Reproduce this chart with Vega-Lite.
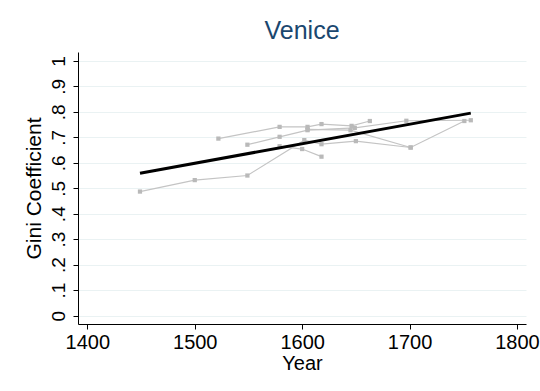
{
  "$schema": "https://vega.github.io/schema/vega-lite/v6.json",
  "width": 448,
  "height": 272,
  "autosize": {"type": "none"},
  "padding": {"left": 78, "top": 52, "right": 14, "bottom": 67},
  "background": "white",
  "title": {"text": "Venice", "fontSize": 25, "font": "Liberation Sans", "fontWeight": "normal", "color": "#1a476f", "anchor": "middle", "offset": 8},
  "config": {
    "view": {"stroke": null},
    "axis": {"labelFont": "Liberation Sans", "titleFont": "Liberation Sans", "labelColor": "#000", "titleColor": "#000", "titleFontWeight": "normal", "domainColor": "#000", "tickColor": "#000", "tickSize": 5, "domainWidth": 1, "tickWidth": 1}
  },
  "datasets": {
    "obs": [
      {"series": "S1", "year": 1449, "gini": 0.487},
      {"series": "S1", "year": 1500, "gini": 0.532},
      {"series": "S1", "year": 1549, "gini": 0.550},
      {"series": "S1", "year": 1602, "gini": 0.689},
      {"series": "S1", "year": 1618, "gini": 0.673},
      {"series": "S1", "year": 1650, "gini": 0.685},
      {"series": "S1", "year": 1701, "gini": 0.660},
      {"series": "S1", "year": 1751, "gini": 0.764},
      {"series": "S2", "year": 1579, "gini": 0.665},
      {"series": "S2", "year": 1600, "gini": 0.654},
      {"series": "S2", "year": 1618, "gini": 0.624},
      {"series": "S3", "year": 1522, "gini": 0.695},
      {"series": "S3", "year": 1579, "gini": 0.741},
      {"series": "S3", "year": 1605, "gini": 0.741},
      {"series": "S3", "year": 1618, "gini": 0.752},
      {"series": "S3", "year": 1646, "gini": 0.745},
      {"series": "S3", "year": 1663, "gini": 0.764},
      {"series": "S4", "year": 1549, "gini": 0.671},
      {"series": "S4", "year": 1579, "gini": 0.702},
      {"series": "S4", "year": 1605, "gini": 0.728},
      {"series": "S4", "year": 1649, "gini": 0.737},
      {"series": "S4", "year": 1697, "gini": 0.765},
      {"series": "S4", "year": 1757, "gini": 0.767},
      {"series": "S5", "year": 1605, "gini": 0.731},
      {"series": "S5", "year": 1645, "gini": 0.728},
      {"series": "S5", "year": 1701, "gini": 0.660}
    ],
    "fit": [
      {"year": 1449, "gini": 0.559},
      {"year": 1757, "gini": 0.795}
    ]
  },
  "encoding": {
    "x": {"field": "year", "type": "quantitative",
          "scale": {"domain": [1391.3, 1808.4], "nice": false, "zero": false},
          "axis": {"values": [1400, 1500, 1600, 1700, 1800], "grid": false, "format": "d", "labelFontSize": 20, "labelPadding": 3, "labelOverlap": false, "title": "Year", "titleFontSize": 20, "titlePadding": 1}},
    "y": {"field": "gini", "type": "quantitative",
          "scale": {"domain": [-0.033, 1.035], "nice": false, "zero": false},
          "axis": {"values": [0, 0.1, 0.2, 0.3, 0.4, 0.5, 0.6, 0.7, 0.8, 0.9, 1],
                   "labelExpr": "datum.value == 0 ? '0' : datum.value >= 0.999 ? '1' : replace(format(datum.value, '.1f'), '0.', '.')",
                   "labelAngle": -90, "labelAlign": "center", "labelBaseline": "alphabetic", "labelPadding": 9, "labelFontSize": 19, "labelOverlap": false, "labelBound": false,
                   "grid": true, "gridColor": "#eaf2f3", "gridWidth": 1,
                   "title": "Gini Coefficient", "titleFontSize": 21, "titlePadding": 5}}
  },
  "layer": [
    {
      "data": {"name": "obs"},
      "mark": {"type": "line", "color": "#c4c4c4", "strokeWidth": 1.2, "point": {"shape": "square", "size": 18, "filled": true, "color": "#b9b9b9"}},
      "encoding": {
        "detail": {"field": "series", "type": "nominal"}
      }
    },
    {
      "data": {"name": "fit"},
      "mark": {"type": "line", "color": "#000000", "strokeWidth": 3},
      "encoding": {}
    }
  ]
}
